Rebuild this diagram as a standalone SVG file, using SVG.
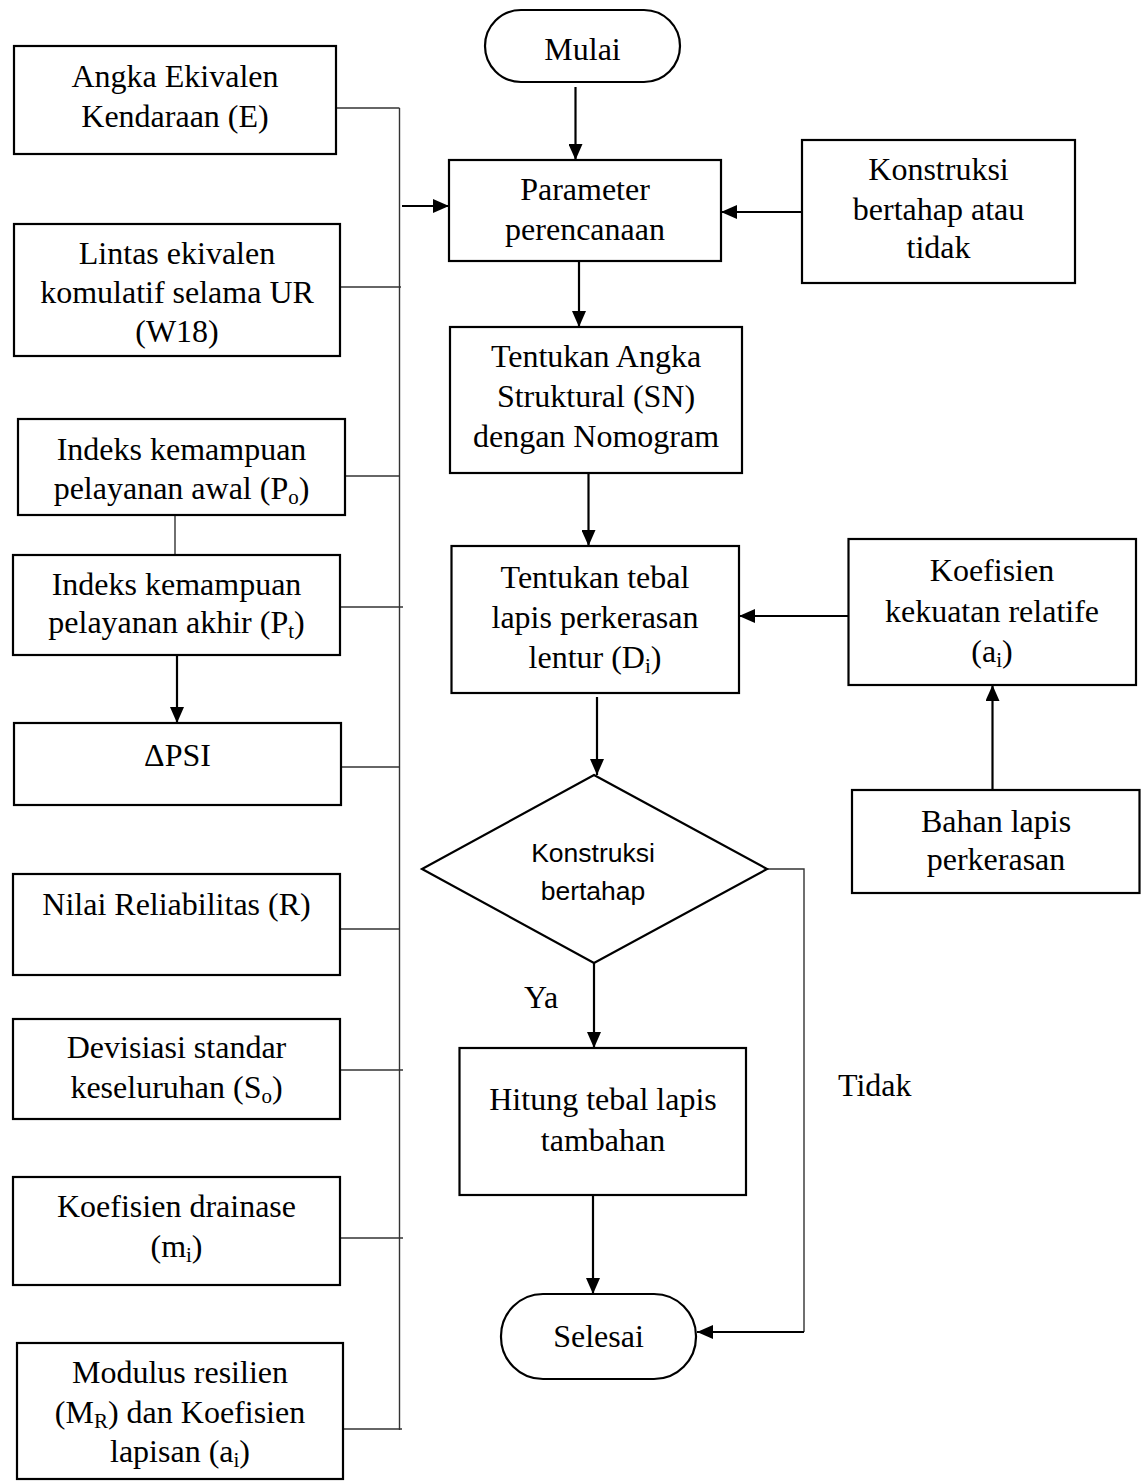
<svg xmlns="http://www.w3.org/2000/svg" width="1148" height="1481" viewBox="0 0 1148 1481">
<style>
.box{fill:#fff;stroke:#000;stroke-width:2.2}
.t{font-family:"Liberation Serif","Times New Roman",serif;font-size:32px;text-anchor:middle;fill:#000}
.ts{font-family:"Liberation Sans",Arial,sans-serif;font-size:26.5px;text-anchor:middle;fill:#000}
.lbl{font-family:"Liberation Serif","Times New Roman",serif;font-size:32px;fill:#000}
.thin{stroke:#333;stroke-width:1.4;fill:none}
.arr{stroke:#000;stroke-width:2.2;fill:none;marker-end:url(#ah)}
</style>
<defs>
<marker id="ah" markerUnits="userSpaceOnUse" markerWidth="16" markerHeight="14" viewBox="0 0 16 14" refX="16" refY="7" orient="auto">
<path d="M0,0 L16,7 L0,14 z" fill="#000"/>
</marker>
</defs>
<rect width="1148" height="1481" fill="#fff"/>

<g id="connectors">
<path class="thin" d="M399.5,108 V1430"/>
<path class="thin" d="M336,108 H399.5"/>
<path class="thin" d="M340,287 H401"/>
<path class="thin" d="M345,476 H399.5"/>
<path class="thin" d="M340,607 H403"/>
<path class="thin" d="M341,767 H399.5"/>
<path class="thin" d="M340,929 H399.5"/>
<path class="thin" d="M340,1070 H403"/>
<path class="thin" d="M340,1238 H403"/>
<path class="thin" d="M343,1429 H402"/>
<path class="thin" d="M175,515 V555"/>
<path class="arr" d="M177,655 V723"/>
<path class="arr" d="M402,206 H449"/>
<path class="arr" d="M575.5,87 V160"/>
<path class="arr" d="M802,212 H721"/>
<path class="arr" d="M579,261 V327"/>
<path class="arr" d="M588.5,473 V546"/>
<path class="arr" d="M848.5,616 H739"/>
<path class="arr" d="M992.5,790 V685"/>
<path class="arr" d="M597,697 V775"/>
<path class="arr" d="M594,963 V1048"/>
<path class="arr" d="M593,1195 V1294"/>
<path class="thin" d="M767,869 H804 V1332"/>
<path class="arr" style="stroke-width:1.8" d="M804,1332 H697"/>
<text class="lbl" x="524" y="1008">Ya</text>
<text class="lbl" x="838" y="1096">Tidak</text>
</g>

<g id="n-angka">
<rect class="box" x="14" y="46" width="322" height="108"/>
<text class="t" x="175" y="87">Angka Ekivalen</text>
<text class="t" x="175" y="127">Kendaraan (E)</text>
</g>
<g id="n-lintas">
<rect class="box" x="14" y="224" width="326" height="132"/>
<text class="t" x="177" y="264">Lintas ekivalen</text>
<text class="t" x="177" y="303">komulatif selama UR</text>
<text class="t" x="177" y="342">(W18)</text>
</g>
<g id="n-po">
<rect class="box" x="18" y="419" width="327" height="96"/>
<text class="t" x="181.5" y="460">Indeks kemampuan</text>
<text class="t" x="181.5" y="499">pelayanan awal (P<tspan font-size="21" dy="5">o</tspan><tspan dy="-5">)</tspan></text>
</g>
<g id="n-pt">
<rect class="box" x="13" y="555" width="327" height="100"/>
<text class="t" x="176.5" y="595">Indeks kemampuan</text>
<text class="t" x="176.5" y="633">pelayanan akhir (P<tspan font-size="21" dy="5">t</tspan><tspan dy="-5">)</tspan></text>
</g>
<g id="n-psi">
<rect class="box" x="14" y="723" width="327" height="82"/>
<text class="t" x="177.5" y="766">ΔPSI</text>
</g>
<g id="n-r">
<rect class="box" x="13" y="874" width="327" height="101"/>
<text class="t" x="176.5" y="915">Nilai Reliabilitas (R)</text>
</g>
<g id="n-so">
<rect class="box" x="13" y="1019" width="327" height="100"/>
<text class="t" x="176.5" y="1058">Devisiasi standar</text>
<text class="t" x="176.5" y="1098">keseluruhan (S<tspan font-size="21" dy="5">o</tspan><tspan dy="-5">)</tspan></text>
</g>
<g id="n-mi">
<rect class="box" x="13" y="1177" width="327" height="108"/>
<text class="t" x="176.5" y="1217">Koefisien drainase</text>
<text class="t" x="176.5" y="1257">(m<tspan font-size="21" dy="5">i</tspan><tspan dy="-5">)</tspan></text>
</g>
<g id="n-mr">
<rect class="box" x="17" y="1343" width="326" height="136"/>
<text class="t" x="180" y="1383">Modulus resilien</text>
<text class="t" x="180" y="1423">(M<tspan font-size="21" dy="5">R</tspan><tspan dy="-5">) dan Koefisien</tspan></text>
<text class="t" x="180" y="1462">lapisan (a<tspan font-size="21" dy="5">i</tspan><tspan dy="-5">)</tspan></text>
</g>

<g id="n-mulai">
<rect class="box" x="485" y="10" width="195" height="72" rx="36" ry="36"/>
<text class="t" x="582.5" y="60">Mulai</text>
</g>
<g id="n-param">
<rect class="box" x="449" y="160" width="272" height="101"/>
<text class="t" x="585" y="200">Parameter</text>
<text class="t" x="585" y="240">perencanaan</text>
</g>
<g id="n-konstruksi">
<rect class="box" x="802" y="140" width="273" height="143"/>
<text class="t" x="938.5" y="180">Konstruksi</text>
<text class="t" x="938.5" y="220">bertahap atau</text>
<text class="t" x="938.5" y="258">tidak</text>
</g>
<g id="n-sn">
<rect class="box" x="450" y="327" width="292" height="146"/>
<text class="t" x="596" y="367">Tentukan Angka</text>
<text class="t" x="596" y="407">Struktural (SN)</text>
<text class="t" x="596" y="447">dengan Nomogram</text>
</g>
<g id="n-di">
<rect class="box" x="451.5" y="546" width="287.5" height="147"/>
<text class="t" x="595" y="588">Tentukan tebal</text>
<text class="t" x="595" y="628">lapis perkerasan</text>
<text class="t" x="595" y="668">lentur (D<tspan font-size="21" dy="5">i</tspan><tspan dy="-5">)</tspan></text>
</g>
<g id="n-ai">
<rect class="box" x="848.5" y="539" width="287.5" height="146"/>
<text class="t" x="992" y="581">Koefisien</text>
<text class="t" x="992" y="622">kekuatan relatife</text>
<text class="t" x="992" y="662">(a<tspan font-size="21" dy="5">i</tspan><tspan dy="-5">)</tspan></text>
</g>
<g id="n-bahan">
<rect class="box" x="852" y="790" width="287.5" height="103"/>
<text class="t" x="996" y="832">Bahan lapis</text>
<text class="t" x="996" y="870">perkerasan</text>
</g>
<g id="n-decision">
<polygon class="box" points="594,775 767,869 594,963 422,869"/>
<text class="ts" x="593" y="862">Konstruksi</text>
<text class="ts" x="593" y="900">bertahap</text>
</g>
<g id="n-hitung">
<rect class="box" x="459.5" y="1048" width="286.5" height="147"/>
<text class="t" x="603" y="1110">Hitung tebal lapis</text>
<text class="t" x="603" y="1151">tambahan</text>
</g>
<g id="n-selesai">
<rect class="box" x="501" y="1294" width="195" height="85" rx="42" ry="42"/>
<text class="t" x="598.5" y="1347">Selesai</text>
</g>
</svg>
